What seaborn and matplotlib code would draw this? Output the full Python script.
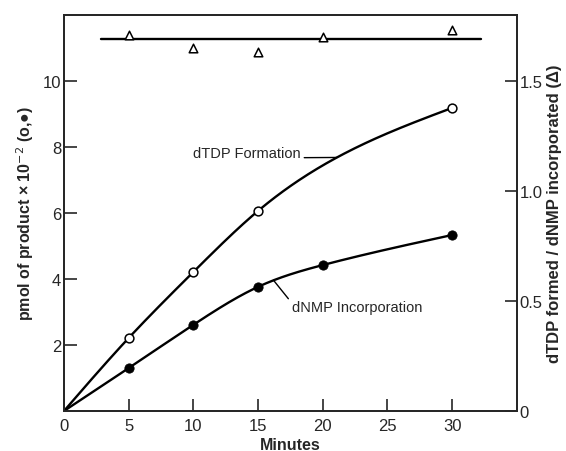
import numpy as np
import pandas as pd
import seaborn as sns
import matplotlib.pyplot as plt

# valores
minutos_tdp = [0, 5, 10, 15, 30]
dtdp_formacao = [0, 2.21, 4.21, 6.06, 9.18]

minutos_nmp = [0, 5, 10, 15, 20, 30]
dnmp_incorporacao = [0, 1.30, 2.61, 3.76, 4.42, 5.33]

minutos_razao = [5, 10, 15, 20, 30]
razao = [1.71, 1.65, 1.63, 1.70, 1.73]
razao_media = 1.69


def spline_natural(x, y, xs):
    # spline cubica natural simples, so para desenhar a curva suave
    x = np.asarray(x, float)
    y = np.asarray(y, float)
    n = len(x)
    h = np.diff(x)
    A = np.zeros((n, n))
    b = np.zeros(n)
    A[0, 0] = A[-1, -1] = 1
    for i in range(1, n - 1):
        A[i, i - 1] = h[i - 1]
        A[i, i] = 2 * (h[i - 1] + h[i])
        A[i, i + 1] = h[i]
        b[i] = 6 * ((y[i + 1] - y[i]) / h[i] - (y[i] - y[i - 1]) / h[i - 1])
    m = np.linalg.solve(A, b)
    idx = np.clip(np.searchsorted(x, xs) - 1, 0, n - 2)
    x0, x1 = x[idx], x[idx + 1]
    hh = x1 - x0
    t0, t1 = x1 - xs, xs - x0
    return (m[idx] * t0**3 / (6 * hh) + m[idx + 1] * t1**3 / (6 * hh)
            + (y[idx] / hh - m[idx] * hh / 6) * t0
            + (y[idx + 1] / hh - m[idx + 1] * hh / 6) * t1)


sns.set_style("ticks")
plt.rcParams['font.family'] = ['Liberation Sans', 'DejaVu Sans']

fig = plt.figure(figsize=(5.66, 4.52), dpi=100)
ax = fig.add_axes([0.113, 0.0885, 0.8, 0.8765])
ax2 = ax.twinx()

xs = np.linspace(0, 30, 300)
curva_tdp = spline_natural(minutos_tdp, dtdp_formacao, xs)
curva_nmp = spline_natural(minutos_nmp, dnmp_incorporacao, xs)
df_curvas = pd.DataFrame({'x': np.concatenate([xs, xs]),
                          'y': np.concatenate([curva_tdp, curva_nmp]),
                          'serie': ['tdp'] * len(xs) + ['nmp'] * len(xs)})
sns.lineplot(data=df_curvas, x='x', y='y', units='serie', estimator=None,
             color='black', lw=1.7, ax=ax, legend=False)

sns.scatterplot(x=minutos_tdp[1:], y=dtdp_formacao[1:], ax=ax, s=40,
                facecolor='white', edgecolor='black', linewidth=1.1, zorder=3)
sns.scatterplot(x=minutos_nmp[1:], y=dnmp_incorporacao[1:], ax=ax, s=45,
                color='black', edgecolor='black', zorder=3)

# razao no eixo direito
sns.scatterplot(x=minutos_razao, y=razao, ax=ax2, marker='^', s=38,
                facecolor='white', edgecolor='black', linewidth=1.1, zorder=3)
ax2.plot([2.9, 32.2], [razao_media, razao_media], color='black', lw=1.7)

ax.set_xlim(0, 35)
ax.set_ylim(0, 12)
ax2.set_ylim(0, 1.8)

ax.set_xticks([0, 5, 10, 15, 20, 25, 30])
ax.set_yticks([2, 4, 6, 8, 10])
ax2.set_yticks([0, 0.5, 1.0, 1.5])
ax2.set_yticklabels(['0', '0.5', '1.0', '1.5'])

for a in (ax, ax2):
    a.tick_params(direction='in', length=9, width=1.2, labelsize=12)
    for s in a.spines.values():
        s.set_linewidth(1.3)
        s.set_visible(True)
ax.tick_params(axis='x', pad=5)
ax.tick_params(axis='y', pad=2)
ax2.tick_params(axis='y', pad=2)

ax.set_xlabel("Minutes", fontsize=11.5, fontweight='bold', labelpad=3)
ax.set_ylabel("pmol of product × 10$^{-2}$ (o,●)", fontsize=11.5,
              fontweight='bold', labelpad=5)
ax2.set_ylabel("dTDP formed / dNMP incorporated (Δ)", fontsize=12,
               fontweight='bold', labelpad=3)

y_tdp = spline_natural(minutos_tdp, dtdp_formacao, np.array([21.1]))[0]
y_nmp = spline_natural(minutos_nmp, dnmp_incorporacao, np.array([16.2]))[0]
ax.annotate("dTDP Formation", xy=(21.1, y_tdp), xytext=(10.0, 7.8),
            fontsize=10.5, ha='left', va='center',
            arrowprops=dict(arrowstyle='-', color='black', lw=1,
                            shrinkA=0, shrinkB=0, relpos=(1, 0.2)))
ax.annotate("dNMP Incorporation", xy=(16.2, y_nmp), xytext=(17.6, 3.15),
            fontsize=10.5, ha='left', va='center',
            arrowprops=dict(arrowstyle='-', color='black', lw=1,
                            shrinkA=0, shrinkB=0, relpos=(0, 0.8)))

plt.savefig("out.png", dpi=100)
